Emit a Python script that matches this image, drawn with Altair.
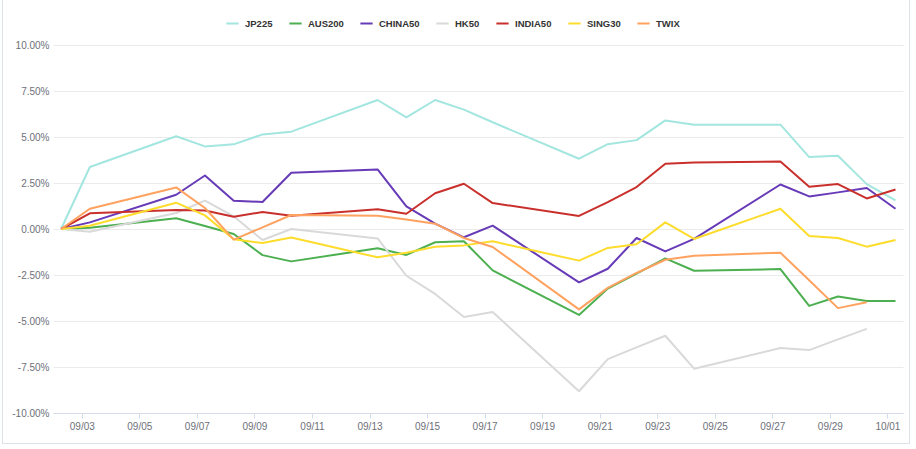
import altair as alt
import pandas as pd

# Trading days (2021); values are % change from 09/02
dates = ["09-02", "09-03", "09-06", "09-07", "09-08", "09-09", "09-10",
         "09-13", "09-14", "09-15", "09-16", "09-17", "09-20", "09-21",
         "09-22", "09-23", "09-24", "09-27", "09-28", "09-29", "09-30", "10-01"]

series_names = ["JP225", "AUS200", "CHINA50", "HK50", "INDIA50", "SING30", "TWIX"]

jp225 = [0, 3.37, 5.04, 4.49, 4.60, 5.14, 5.29, 7.01, 6.07, 7.01, 6.49, 5.80,
         3.82, 4.61, 4.83, 5.90, 5.67, 5.67, 3.91, 3.98, 2.44, 1.56]
aus200 = [0, 0.07, 0.58, 0.16, -0.27, -1.42, -1.76, -1.05, -1.41, -0.72, -0.67, -2.25,
          -4.67, -3.24, -2.43, -1.60, -2.27, -2.18, -4.18, -3.67, -3.91, -3.91]
china50 = [0, 0.36, 1.86, 2.91, 1.54, 1.47, 3.06, 3.24, 1.23, 0.29, -0.45, 0.18,
           -2.90, -2.16, -0.49, -1.22, -0.54, 2.42, 1.77, 1.99, 2.23, 1.10]
hk50 = [0, -0.15, 0.87, 1.54, 0.69, -0.60, 0.00, -0.51, -2.54, -3.53, -4.78, -4.51,
        -8.82, -7.07, -6.43, -5.80, -7.59, -6.47, -6.58, -6.00, -5.43, None]
india50 = [0, 0.85, 1.03, 1.01, 0.67, 0.92, 0.72, 1.07, 0.83, 1.94, 2.46, 1.41,
           0.71, 1.46, 2.28, 3.55, 3.62, 3.67, 2.30, 2.44, 1.66, 2.15]
sing30 = [0, 0.18, 1.43, 0.74, -0.56, -0.76, -0.46, -1.54, -1.29, -0.96, -0.89, -0.67,
          -1.72, -1.03, -0.83, 0.36, -0.54, 1.10, -0.38, -0.49, -0.96, -0.60]
twix = [0, 1.10, 2.26, 1.14, -0.58, 0.09, 0.76, 0.72, 0.51, 0.29, -0.49, -0.98,
        -4.37, -3.20, -2.39, -1.67, -1.45, -1.29, -2.78, -4.30, -3.98, None]

colors = ["#a3e6e0", "#4caf50", "#673ab7", "#d9d9d9", "#c9302c", "#fddc2c", "#ffa25f"]

tick_dates = ["09-03", "09-05", "09-07", "09-09", "09-11", "09-13", "09-15",
              "09-17", "09-19", "09-21", "09-23", "09-25", "09-27", "09-29", "10-01"]

all_series = [jp225, aus200, china50, hk50, india50, sing30, twix]
rows = []
for name, vals in zip(series_names, all_series):
    for d, v in zip(dates, vals):
        if v is None:
            continue
        rows.append({"date": f"2021-{d}T06:45:00", "series": name, "value": v,
                     "order": series_names.index(name)})
df = pd.DataFrame(rows)

def dt(md, hours=0):
    m, d = md.split("-")
    return alt.DateTime(year=2021, month=int(m), date=int(d), hours=hours)

x_axis = alt.Axis(
    values=[dt(t) for t in tick_dates],
    format="%m/%d", title=None, grid=False,
    domainColor="#d5dcea", tickColor="#d5dcea", tickSize=5,
    labelColor="#6e7079", labelFontSize=10, labelPadding=3,
    labelFont="Liberation Sans",
)
y_axis = alt.Axis(
    values=[-10, -7.5, -5, -2.5, 0, 2.5, 5, 7.5, 10],
    labelExpr="replace(format(datum.value, '.2f'), '\u2212', '-') + '%'",
    title=None, domain=False, ticks=False, grid=True,
    gridColor="#ebebeb", gridWidth=1,
    labelColor="#6e7079", labelFontSize=10, labelPadding=4,
    labelFont="Liberation Sans",
)

lines = alt.Chart(df).mark_line(strokeWidth=2, strokeJoin="round").encode(
    x=alt.X("date:T", axis=x_axis,
            scale=alt.Scale(domain=[dt("09-02"), dt("10-01", 13)], nice=False)),
    y=alt.Y("value:Q", axis=y_axis, scale=alt.Scale(domain=[-10, 10], nice=False)),
    color=alt.Color("series:N",
                    scale=alt.Scale(domain=series_names, range=colors),
                    sort=series_names,
                    legend=alt.Legend(
                        title=None, orient="none", direction="horizontal",
                        legendX=172, legendY=-29, padding=0,
                        symbolType="stroke", symbolSize=150, symbolStrokeWidth=2,
                        labelFont="Liberation Sans", labelFontSize=9.5,
                        labelFontWeight="bold", labelColor="#333333",
                        labelOffset=5, columnPadding=12,
                    )),
    order=alt.Order("order:Q"),
)

border_color = "#dbe3e8"
left_b = alt.Chart(df).mark_rule(color=border_color, strokeWidth=1).encode(
    x=alt.value(-50.5), y=alt.value(-45), y2=alt.value(398.5))
right_b = alt.Chart(df).mark_rule(color=border_color, strokeWidth=1).encode(
    x=alt.value(856.5), y=alt.value(-45), y2=alt.value(398.5))
bottom_b = alt.Chart(df).mark_rule(color=border_color, strokeWidth=1).encode(
    x=alt.value(-50.5), x2=alt.value(856.5), y=alt.value(398.5))

chart = alt.layer(left_b, right_b, bottom_b, lines).properties(
    width=850, height=368,
    autosize=alt.AutoSizeParams(type="none"),
    padding={"left": 53, "top": 45, "right": 13, "bottom": 36},
    background="white",
).configure_view(stroke=None)

chart.save("out.html", embed_options={"renderer": "svg", "actions": False})
